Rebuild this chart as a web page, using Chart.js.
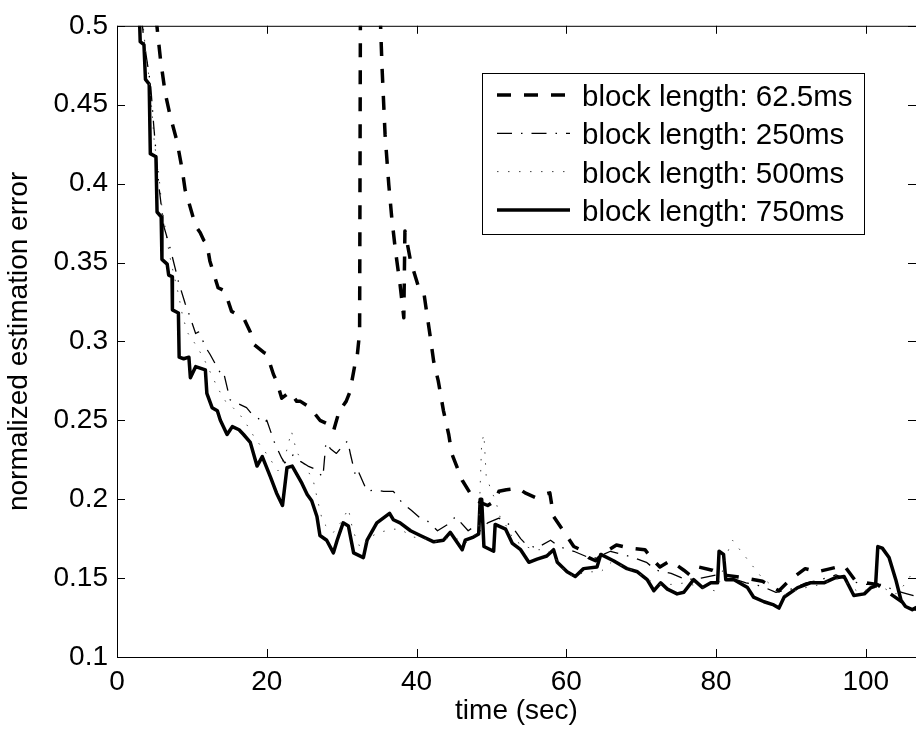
<!DOCTYPE html>
<html lang="en">
<head>
<meta charset="UTF-8">
<title>Estimation error vs block length</title>
<script src="https://cdn.jsdelivr.net/npm/chart.js"></script>
<style>
    body, html {
        margin: 0;
        padding: 0;
        background: #fff;
        overflow: hidden;
    }
    #chart-container {
        width: 916px;
        height: 736px;
    }
</style>
</head>
<body>
<div id="chart-container">
    <canvas id="err" width="916" height="736"></canvas>
</div>
<script>
    // block length 62.5ms (dashed)
    const t62 = [
        5.2, 5.35, 5.8, 6.45, 7.1, 8.0, 8.7, 9.1, 9.6, 10.5,
        11.1, 11.6, 12.0, 12.4, 13.5, 14.4, 15.3, 16.9, 17.8, 18.3,
        19.6, 20.0, 20.9, 21.3, 22.0, 23.1, 24.0, 24.5, 25.8, 27.1,
        28.0, 28.9, 29.8, 30.0, 30.6, 31.1, 31.8, 32.0, 32.4, 32.45,
        32.55, 34.5, 35.2, 35.4, 35.8, 36.3, 36.7, 37.2, 37.8, 38.3,
        38.45, 39.2, 40.3, 41.0, 41.8, 42.3, 42.9, 43.6, 44.3, 44.7,
        46.1, 47.4, 48.5, 49.5, 50.5, 51.0, 52.0, 53.6, 54.5, 55.9,
        57.0, 57.8, 58.3, 59.9, 61.0, 61.9, 63.0, 63.9, 65.0, 66.7,
        68.5, 70.5, 71.5, 72.5, 73.9, 75.7, 76.5, 77.7, 79.5, 81.0,
        82.5, 84.0, 86.2, 88.4, 89.9, 91.9, 93.5, 95.3, 97.1, 98.5,
        100.0, 101.5, 103.3, 105.1, 106.2, 107.0
    ];
    const e62 = [
        0.505, 0.499, 0.479, 0.457, 0.443, 0.427, 0.409, 0.396, 0.388, 0.373,
        0.369, 0.364, 0.362, 0.351, 0.334, 0.332, 0.319, 0.315, 0.306, 0.298,
        0.293, 0.292, 0.279, 0.275, 0.264, 0.268, 0.262, 0.262, 0.258, 0.250,
        0.248, 0.243, 0.258, 0.258, 0.262, 0.268, 0.286, 0.287, 0.306, 0.400,
        0.600, 0.600, 0.500, 0.473, 0.431, 0.399, 0.378, 0.357, 0.336, 0.315,
        0.370, 0.351, 0.334, 0.330, 0.304, 0.287, 0.275, 0.256, 0.241, 0.229,
        0.212, 0.202, 0.198, 0.196, 0.199, 0.205, 0.206, 0.207, 0.204, 0.201,
        0.203, 0.204, 0.189, 0.178, 0.170, 0.168, 0.163, 0.161, 0.166, 0.171,
        0.169, 0.168, 0.162, 0.157, 0.161, 0.155, 0.152, 0.157, 0.155, 0.152,
        0.151, 0.150, 0.148, 0.142, 0.149, 0.156, 0.154, 0.156, 0.158, 0.149,
        0.147, 0.146, 0.140, 0.134, 0.131, 0.130
    ];

    // block length 250ms (dash-dot)
    const t250 = [
        3.3, 3.6, 4.0, 4.5, 4.9, 5.6, 6.25, 7.1, 8.0, 8.2,
        9.1, 9.5, 10.5, 10.9, 12.0, 12.4, 13.8, 14.2, 15.1, 16.0,
        17.3, 18.0, 18.7, 19.6, 20.0, 21.1, 22.0, 22.4, 23.5, 24.5,
        25.5, 26.5, 27.5, 27.9, 28.5, 29.3, 30.0, 30.8, 31.2, 31.8,
        32.1, 33.4, 34.5, 35.6, 36.9, 38.2, 39.3, 40.5, 41.5, 42.8,
        44.5, 45.2, 46.9, 47.5, 48.5, 49.5, 51.0, 52.7, 53.9, 54.5,
        56.0, 57.9, 59.0, 61.0, 62.5, 63.5, 65.9, 67.5, 69.0, 70.7,
        72.0, 74.0, 76.0, 78.0, 80.0, 82.0, 84.0, 86.0, 88.0, 90.0,
        92.0, 94.0, 96.0, 98.0, 100.0, 102.0, 104.0, 105.5, 107.0
    ];
    const e250 = [
        0.505, 0.490, 0.478, 0.462, 0.437, 0.398, 0.373, 0.359, 0.342, 0.338,
        0.324, 0.319, 0.305, 0.306, 0.295, 0.292, 0.280, 0.281, 0.263, 0.261,
        0.258, 0.254, 0.252, 0.248, 0.250, 0.235, 0.226, 0.223, 0.228, 0.224,
        0.221, 0.219, 0.214, 0.236, 0.232, 0.229, 0.233, 0.237, 0.228, 0.216,
        0.219, 0.205, 0.206, 0.205, 0.205, 0.197, 0.193, 0.188, 0.186, 0.180,
        0.185, 0.189, 0.180, 0.182, 0.180, 0.185, 0.188, 0.183, 0.175, 0.172,
        0.169, 0.174, 0.170, 0.167, 0.164, 0.162, 0.167, 0.165, 0.163, 0.160,
        0.155, 0.153, 0.149, 0.150, 0.152, 0.150, 0.147, 0.145, 0.141, 0.143,
        0.147, 0.149, 0.152, 0.148, 0.146, 0.146, 0.142, 0.140, 0.138
    ];

    // block length 500ms (dotted)
    const t500 = [
        3.4, 3.7, 4.2, 4.6, 5.0, 5.5, 6.0, 6.5, 7.0, 7.6,
        8.2, 8.8, 9.5, 10.5, 11.5, 12.5, 13.5, 14.5, 15.5, 16.5,
        17.5, 18.5, 19.5, 20.5, 21.5, 22.5, 23.3, 24.0, 25.0, 26.2,
        27.0, 27.5, 28.9, 30.0, 30.9, 31.5, 32.5, 33.8, 35.0, 36.9,
        37.8, 39.6, 41.0, 42.5, 44.0, 45.0, 46.5, 47.5, 48.3, 48.7,
        49.0, 49.3, 50.0, 50.5, 51.2, 52.0, 53.0, 54.5, 56.0, 57.5,
        59.0, 60.0, 61.2, 62.5, 64.6, 66.0, 68.0, 70.0, 72.0, 74.0,
        76.0, 78.0, 79.8, 80.5, 81.5, 82.2, 83.5, 85.0, 86.0, 87.5,
        89.0, 90.5, 92.0, 94.0, 96.0, 97.5, 99.0, 100.5, 102.0, 103.0,
        104.0, 105.0, 106.2, 107.0
    ];
    const e500 = [
        0.505, 0.490, 0.470, 0.450, 0.425, 0.410, 0.385, 0.370, 0.355, 0.342,
        0.330, 0.315, 0.305, 0.298, 0.290, 0.280, 0.270, 0.262, 0.258, 0.253,
        0.246, 0.238, 0.232, 0.225, 0.218, 0.228, 0.243, 0.230, 0.222, 0.212,
        0.195, 0.185, 0.179, 0.186, 0.194, 0.180, 0.169, 0.176, 0.179, 0.181,
        0.181, 0.176, 0.175, 0.173, 0.175, 0.176, 0.172, 0.176, 0.180, 0.236,
        0.241, 0.215, 0.205, 0.200, 0.188, 0.183, 0.174, 0.170, 0.168, 0.168,
        0.160, 0.153, 0.151, 0.154, 0.154, 0.160, 0.157, 0.152, 0.146, 0.146,
        0.147, 0.144, 0.142, 0.148, 0.166, 0.174, 0.166, 0.157, 0.151, 0.145,
        0.139, 0.142, 0.144, 0.146, 0.150, 0.147, 0.141, 0.143, 0.145, 0.142,
        0.140, 0.145, 0.153, 0.155
    ];

    // block length 750ms (solid)
    const t750 = [
        3.0, 3.1, 3.6, 3.8, 4.3, 4.45, 5.2, 5.35, 5.9, 6.0,
        6.7, 6.9, 7.35, 7.4, 8.2, 8.3, 8.9, 9.6, 9.8, 10.5,
        11.8, 12.0, 12.7, 13.4, 13.8, 14.7, 15.4, 16.3, 16.9, 17.8,
        18.7, 19.4, 20.5, 21.3, 22.1, 22.7, 23.4, 24.7, 25.4, 26.0,
        26.7, 27.1, 28.0, 28.9, 29.4, 30.2, 30.9, 31.6, 32.9, 33.4,
        34.7, 36.4, 36.9, 37.8, 39.2, 40.5, 42.3, 43.6, 44.5, 46.1,
        46.5, 47.6, 48.3, 48.5, 48.7, 49.0, 50.3, 50.5, 51.9, 52.8,
        53.9, 55.0, 56.1, 57.4, 58.3, 58.8, 60.1, 61.2, 62.3, 64.1,
        64.6, 66.3, 68.1, 69.5, 70.8, 71.7, 72.6, 73.5, 74.8, 75.7,
        77.0, 78.2, 79.3, 80.2, 80.4, 81.0, 81.3, 82.4, 84.2, 85.0,
        86.4, 87.7, 88.4, 89.1, 90.9, 92.6, 94.4, 95.8, 97.1, 98.4,
        99.8, 100.7, 101.3, 101.6, 102.2, 103.1, 104.0, 104.7, 105.3, 106.2,
        107.0
    ];
    const e750 = [
        0.505, 0.490, 0.488, 0.466, 0.463, 0.419, 0.417, 0.382, 0.379, 0.352,
        0.349, 0.342, 0.341, 0.320, 0.318, 0.290, 0.289, 0.290, 0.277, 0.284,
        0.282, 0.267, 0.258, 0.256, 0.250, 0.241, 0.246, 0.244, 0.241, 0.236,
        0.221, 0.227, 0.214, 0.204, 0.196, 0.220, 0.221, 0.210, 0.203, 0.199,
        0.189, 0.177, 0.174, 0.166, 0.174, 0.185, 0.183, 0.166, 0.163, 0.174,
        0.185, 0.191, 0.187, 0.185, 0.180, 0.177, 0.173, 0.174, 0.179, 0.168,
        0.174, 0.176, 0.178, 0.200, 0.200, 0.170, 0.167, 0.184, 0.181, 0.172,
        0.168, 0.160, 0.162, 0.164, 0.168, 0.160, 0.154, 0.151, 0.156, 0.157,
        0.165, 0.161, 0.156, 0.154, 0.149, 0.142, 0.147, 0.143, 0.140, 0.141,
        0.149, 0.144, 0.147, 0.147, 0.167, 0.165, 0.149, 0.149, 0.144, 0.138,
        0.135, 0.133, 0.131, 0.138, 0.144, 0.147, 0.147, 0.150, 0.151, 0.139,
        0.140, 0.144, 0.145, 0.170, 0.169, 0.163, 0.149, 0.136, 0.132, 0.130,
        0.132
    ];

    const seriesLabels = [
        'block length: 62.5ms',
        'block length: 250ms',
        'block length: 500ms',
        'block length: 750ms'
    ];
    const xTicks = [0, 20, 40, 60, 80, 100];
    const yTicks = [0.1, 0.15, 0.2, 0.25, 0.3, 0.35, 0.4, 0.45, 0.5];

    const FONT = '"Liberation Sans", Arial, sans-serif';
    const FONT_SIZE = 28;
    const LEGEND_FONT_SIZE = 29.5;

    function toPoints(ts, es) {
        return ts.map((t, i) => ({x: t, y: es[i]}));
    }

    // MATLAB style box with inward ticks on all four sides
    const boxTicks = {
        id: 'boxTicks',
        afterDatasetsDraw(chart) {
            const {ctx, chartArea: a} = chart;
            const x = chart.scales.x, y = chart.scales.y;
            ctx.save();
            ctx.strokeStyle = '#000';
            ctx.lineWidth = 1;
            ctx.setLineDash([]);
            ctx.strokeRect(a.left + 0.5, a.top + 0.5, a.right - a.left, a.bottom - a.top);
            ctx.beginPath();
            xTicks.forEach(v => {
                const px = Math.round(x.getPixelForValue(v)) + 0.5;
                ctx.moveTo(px, a.bottom); ctx.lineTo(px, a.bottom - 8);
                ctx.moveTo(px, a.top); ctx.lineTo(px, a.top + 8);
            });
            yTicks.forEach(v => {
                const py = Math.round(y.getPixelForValue(v)) + 0.5;
                ctx.moveTo(a.left, py); ctx.lineTo(a.left + 8, py);
                ctx.moveTo(a.right, py); ctx.lineTo(a.right - 8, py);
            });
            ctx.stroke();
            ctx.restore();
        }
    };

    // boxed legend inside the plot, upper right
    const boxLegend = {
        id: 'boxLegend',
        afterDraw(chart) {
            const ctx = chart.ctx;
            const bx = 482, by = 73, bw = 382, bh = 161;
            ctx.save();
            ctx.fillStyle = '#fff';
            ctx.fillRect(bx, by, bw, bh);
            ctx.strokeStyle = '#000';
            ctx.lineWidth = 1;
            ctx.setLineDash([]);
            ctx.strokeRect(bx + 0.5, by + 0.5, bw, bh);
            ctx.font = LEGEND_FONT_SIZE + 'px ' + FONT;
            ctx.textBaseline = 'alphabetic';
            ctx.textAlign = 'left';
            chart.data.datasets.forEach((ds, i) => {
                const ry = 95 + i * 38.3;
                ctx.beginPath();
                ctx.strokeStyle = ds.borderColor;
                ctx.lineWidth = ds.borderWidth;
                ctx.setLineDash(ds.borderDash || []);
                ctx.moveTo(497, ry);
                ctx.lineTo(570, ry);
                ctx.stroke();
                ctx.setLineDash([]);
                ctx.fillStyle = '#000';
                ctx.fillText(ds.label, 582, ry + 11);
            });
            ctx.restore();
        }
    };

    new Chart(document.getElementById('err').getContext('2d'), {
        type: 'line',
        data: {
            datasets: [
                {
                    label: seriesLabels[0],
                    data: toPoints(t62, e62),
                    borderColor: '#000',
                    borderWidth: 3.5,
                    borderDash: [14, 13]
                },
                {
                    label: seriesLabels[1],
                    data: toPoints(t250, e250),
                    borderColor: '#000',
                    borderWidth: 1.3,
                    borderDash: [15, 9, 1.5, 9]
                },
                {
                    label: seriesLabels[2],
                    data: toPoints(t500, e500),
                    borderColor: '#444',
                    borderWidth: 1,
                    borderDash: [1.5, 9.5]
                },
                {
                    label: seriesLabels[3],
                    data: toPoints(t750, e750),
                    borderColor: '#000',
                    borderWidth: 3.5
                }
            ]
        },
        options: {
            responsive: false,
            animation: false,
            events: [],
            layout: {padding: {top: 23, right: 0, left: 0, bottom: 0}},
            elements: {
                point: {radius: 0},
                line: {tension: 0, fill: false, borderJoinStyle: 'round'}
            },
            plugins: {
                legend: {display: false},
                tooltip: {enabled: false}
            },
            scales: {
                x: {
                    type: 'linear',
                    min: 0,
                    max: 106.7,
                    afterBuildTicks: s => { s.ticks = xTicks.map(v => ({value: v})); },
                    afterFit: s => { s.height = 79; },
                    grid: {display: false, drawTicks: false},
                    border: {display: false},
                    ticks: {
                        padding: 8,
                        maxRotation: 0,
                        color: '#000',
                        font: {family: FONT, size: FONT_SIZE}
                    },
                    title: {
                        display: true,
                        text: 'time (sec)',
                        color: '#000',
                        padding: {top: 0, bottom: 8},
                        font: {family: FONT, size: FONT_SIZE}
                    }
                },
                y: {
                    type: 'linear',
                    min: 0.1,
                    max: 0.5,
                    afterBuildTicks: s => { s.ticks = yTicks.map(v => ({value: v})); },
                    afterFit: s => { s.width = 117; },
                    grid: {display: false, drawTicks: false},
                    border: {display: false},
                    ticks: {
                        padding: 9,
                        color: '#000',
                        font: {family: FONT, size: FONT_SIZE},
                        callback: v => String(Number(v.toFixed(2)))
                    },
                    title: {
                        display: true,
                        text: 'normalized estimation error',
                        color: '#000',
                        padding: {top: 2, bottom: 0},
                        font: {family: FONT, size: FONT_SIZE}
                    }
                }
            }
        },
        plugins: [boxTicks, boxLegend]
    });
</script>
</body>
</html>
